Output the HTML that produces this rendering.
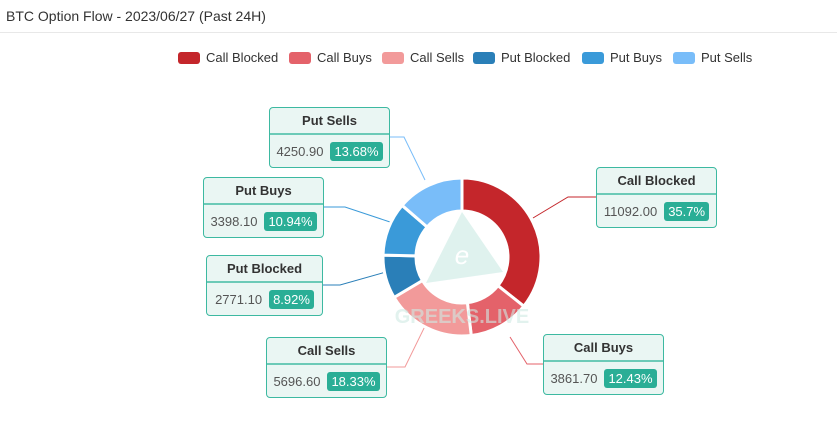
<!DOCTYPE html><html><head><meta charset="utf-8"><style>
body{margin:0;width:837px;height:438px;background:#fff;font-family:"Liberation Sans",sans-serif;position:relative;overflow:hidden}
.t{position:absolute;left:6px;top:8px;font-size:14px;color:#333}
.hr{position:absolute;left:0;top:32px;width:837px;height:1px;background:#e8e8e8}
.lg{position:absolute;top:50px;font-size:13px;color:#333;display:flex;align-items:center}
.lg i{display:inline-block;width:22px;height:12px;border-radius:3px;margin-right:6px}
.b{position:absolute;background:#eaf6f3;border:1px solid #3db9a1;border-radius:4px;box-sizing:border-box;width:121px;height:61px}
.b .h{height:25px;border-bottom:2px solid #6ccab7;text-align:center;font-weight:bold;font-size:13px;line-height:25px;color:#333}
.b .v{display:flex;align-items:center;justify-content:center;height:33px;font-size:13px;color:#555;gap:7px}
.b .v span{background:#2aae96;color:#fff;border-radius:3px;padding:2px 4px;font-size:13px}
</style></head><body>
<div class="t">BTC Option Flow - 2023/06/27 (Past 24H)</div><div class="hr"></div>
<div class="lg" style="left:178px"><i style="background:#c4262b"></i>Call Blocked</div>
<div class="lg" style="left:289px"><i style="background:#e4626a"></i>Call Buys</div>
<div class="lg" style="left:382px"><i style="background:#f29a9a"></i>Call Sells</div>
<div class="lg" style="left:473px"><i style="background:#2a7fb8"></i>Put Blocked</div>
<div class="lg" style="left:582px"><i style="background:#3a9ad9"></i>Put Buys</div>
<div class="lg" style="left:673px"><i style="background:#79bdf9"></i>Put Sells</div>
<svg id="s" width="837" height="438" style="position:absolute;left:0;top:0">
<g fill="none" stroke-width="1">
<polyline points="596,197 568,197 533,218" stroke="#c4262b"/>
<polyline points="543,364 527,364 510,337" stroke="#e4626a"/>
<polyline points="390,137 404,137 425,180" stroke="#79bdf9"/>
<polyline points="324,207 345,207 390,222" stroke="#3a9ad9"/>
<polyline points="322,285 340,285 386,272" stroke="#2a7fb8"/>
<polyline points="387,367 405,367 428,320" stroke="#f29a9a"/>
</g>
<g id="d"></g>
<g opacity="0.45" fill="#b9e2da"><polygon points="462,212 503,272 426,283"/></g>
<text x="462" y="264" font-size="26" font-style="italic" fill="#fff" text-anchor="middle">e</text>
<text x="462" y="323" font-size="20" font-weight="bold" fill="#cfeae4" text-anchor="middle" opacity="0.6">GREEKS.LIVE</text>
</svg>
<div class="b" style="left:269px;top:107px"><div class="h">Put Sells</div><div class="v">4250.90<span>13.68%</span></div></div>
<div class="b" style="left:203px;top:177px"><div class="h">Put Buys</div><div class="v">3398.10<span>10.94%</span></div></div>
<div class="b" style="left:206px;top:255px;width:117px"><div class="h">Put Blocked</div><div class="v">2771.10<span>8.92%</span></div></div>
<div class="b" style="left:266px;top:337px"><div class="h">Call Sells</div><div class="v">5696.60<span>18.33%</span></div></div>
<div class="b" style="left:596px;top:167px"><div class="h">Call Blocked</div><div class="v">11092.00<span>35.7%</span></div></div>
<div class="b" style="left:543px;top:334px"><div class="h">Call Buys</div><div class="v">3861.70<span>12.43%</span></div></div>
<script>
var cx=462,cy=257,R=79,r=46,d=[[35.7,'#c4262b'],[12.43,'#e4626a'],[18.33,'#f29a9a'],[8.92,'#2a7fb8'],[10.94,'#3a9ad9'],[13.68,'#79bdf9']];
var a=0,g=document.getElementById('d'),h='';
function p(rr,t){return (cx+rr*Math.sin(t)).toFixed(2)+','+(cy-rr*Math.cos(t)).toFixed(2)}
d.forEach(function(e){var s=a*Math.PI/180,en=(a+e[0]*3.6)*Math.PI/180,l=e[0]*3.6>180?1:0;
h+='<path d="M'+p(R,s)+'A'+R+','+R+' 0 '+l+' 1 '+p(R,en)+'L'+p(r,en)+'A'+r+','+r+' 0 '+l+' 0 '+p(r,s)+'Z" fill="'+e[1]+'" stroke="#fff" stroke-width="3" stroke-linejoin="round"/>';a+=e[0]*3.6;});
g.innerHTML=h;
</script>
</body></html>
